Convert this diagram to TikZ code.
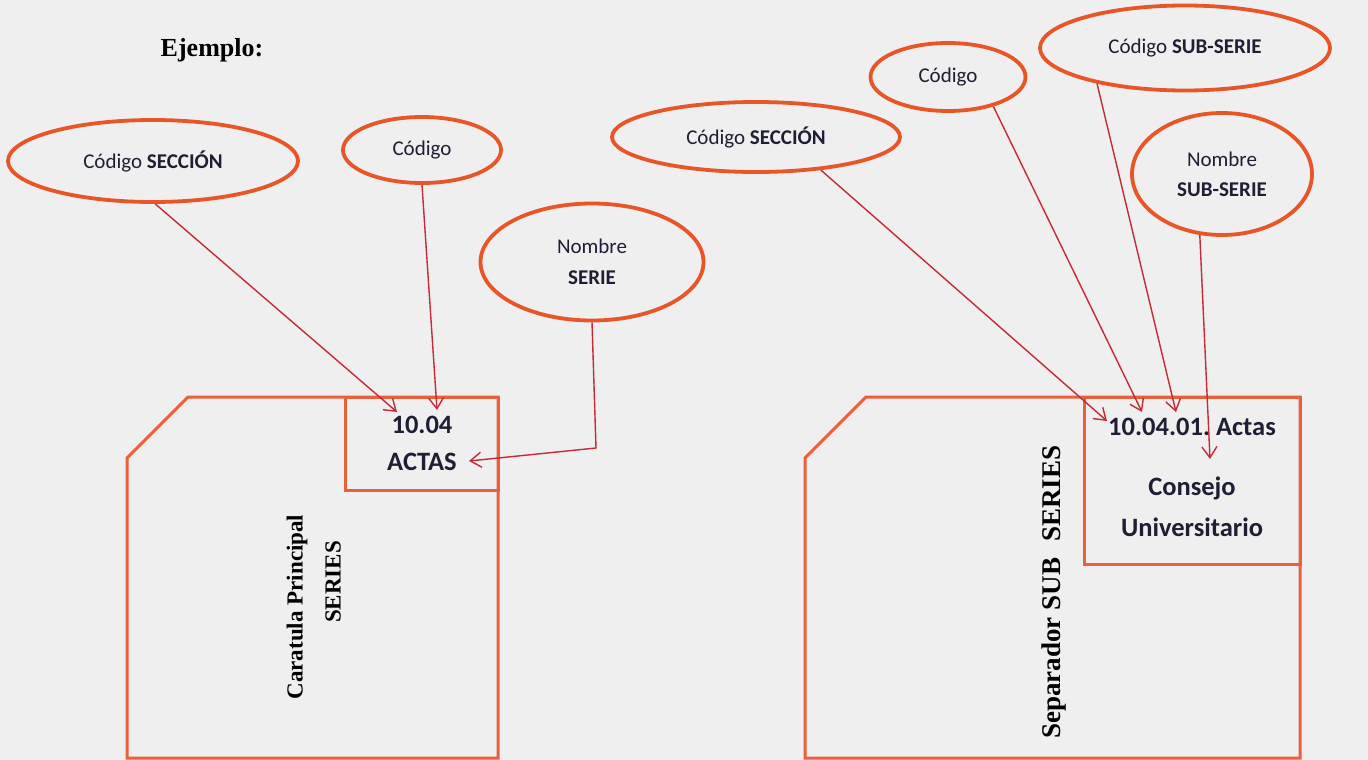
\documentclass[tikz,border=0pt]{standalone}
\usepackage{fontspec}
\setmainfont{Liberation Serif}
\newfontfamily\calib{Carlito}
\usetikzlibrary{shapes.geometric,arrows.meta}
\definecolor{bg}{RGB}{239,239,239}
\definecolor{ering}{RGB}{232,86,40}
\definecolor{boxc}{RGB}{234,96,58}
\definecolor{arr}{RGB}{196,42,56}
\definecolor{ink}{RGB}{30,30,52}
\frenchspacing
\begin{document}
\begin{tikzpicture}[x=1pt,y=-1pt,
 oval/.style={ellipse, draw=ering, line width=3.8pt, inner sep=0pt, font=\calib\fontsize{21}{25}\selectfont, text=ink, align=center},
 conn/.style={draw=arr, line width=1.4pt, -{Straight Barb[length=11pt,width=15pt,line width=1.4pt]}},
 page/.style={draw=boxc, line width=3pt, line join=miter},
 boxtxt/.style={font=\calib\bfseries\fontsize{26.5}{30}\selectfont, text=ink, inner sep=0pt},
 vtxt/.style={font=\bfseries\fontsize{23}{28}\selectfont, rotate=90, inner sep=0pt}
]
\fill[bg] (0,0) rectangle (1368,760);
\useasboundingbox (0,0) rectangle (1368,760);

\node[font=\bfseries\fontsize{26}{30}\selectfont, inner sep=0pt] (ej) at (212,50) {Ejemplo:};

% pages
\draw[page] (127,758) -- (127,458) -- (188,397) -- (498,397) -- (498,758) -- cycle;
\draw[page] (345,397) rectangle (498,490);
\draw[page] (805,758) -- (805,458) -- (866,397) -- (1300,397) -- (1300,758) -- cycle;
\draw[page] (1084,397) rectangle (1300,564);

% texts in boxes
\node[boxtxt] (t1) at (422,425) {10.04};
\node[boxtxt] (t2) at (422,462) {ACTAS};
\node[boxtxt] (t3) at (1192,427) {10.04.01. Actas};
\node[boxtxt] (t4) at (1192,488) {Consejo};
\node[boxtxt] (t5) at (1192,527) {Universitario};

% rotated titles
\node[vtxt] (v1) at (297,607) {Caratula Principal};
\node[vtxt] (v2) at (333,582) {SERIES};
\node[vtxt, font=\bfseries\fontsize{27}{32}\selectfont] (v3) at (1054,592) {Separador SUB\hspace{0.6em}SERIES};

% ellipses
\node[oval, minimum width=290pt, minimum height=82pt] (e1) at (153,161) {Código \textbf{SECCIÓN}};
\node[oval, minimum width=158pt, minimum height=66pt] (e2) at (422,150) {Código};
\node[oval, minimum width=223pt, minimum height=117pt] (e3) at (592,262) {Nombre\\[6pt]\textbf{SERIE}};
\node[oval, minimum width=288pt, minimum height=70pt] (e4) at (756,137) {Código \textbf{SECCIÓN}};
\node[oval, minimum width=155pt, minimum height=68pt] (e5) at (948,77) {Código};
\node[oval, minimum width=290pt, minimum height=85pt] (e6) at (1185,48) {Código \textbf{SUB-SERIE}};
\node[oval, minimum width=180pt, minimum height=122pt] (e7) at (1222,174) {Nombre\\[5pt]\textbf{SUB-SERIE}};

% arrow targets
\coordinate (p1) at (397,412);
\coordinate (p2) at (437,410);
\coordinate (k3) at (596,448);
\coordinate (p3) at (469,461);
\coordinate (q1) at (1107,421);
\coordinate (q2) at (1142,412);
\coordinate (q3) at (1176,412);
\coordinate (q4) at (1210,459);

\draw[conn] (e1.-87) -- (p1);
\draw[conn] (e2.south) -- (p2);
\draw[conn] (e3.south) -- (k3) -- (p3);
\draw[conn] (e4.-27) -- (q1);
\draw[conn] (e5.-33) -- (q2);
\draw[conn] (e6.-158) -- (q3);
\draw[conn] (e7.-110) -- (q4);
\end{tikzpicture}
\end{document}
